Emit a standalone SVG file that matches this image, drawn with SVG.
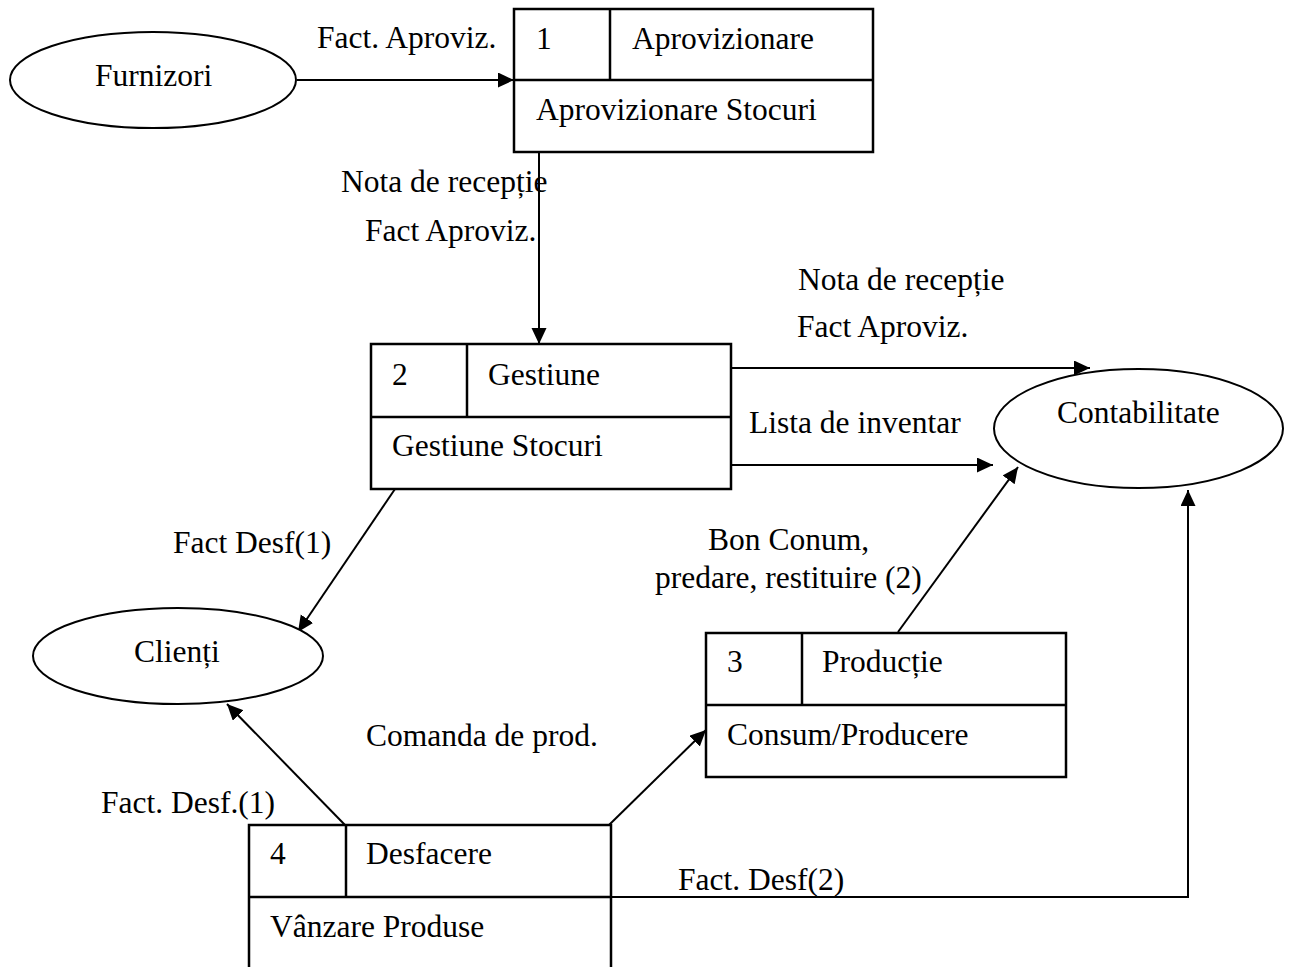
<svg xmlns="http://www.w3.org/2000/svg" width="1293" height="967" viewBox="0 0 1293 967">
  <style>
    text { font-family: "Liberation Serif", "Times New Roman", serif; font-size: 31.5px; fill: #000; }
    .box { fill: #fff; stroke: #000; stroke-width: 2.5; }
    .div { stroke: #000; stroke-width: 2.5; fill: none; }
    .ent { fill: #fff; stroke: #000; stroke-width: 2; }
    .flow { stroke: #000; stroke-width: 2; fill: none; marker-end: url(#arrow); }
  </style>
  <defs>
    <marker id="arrow" markerUnits="userSpaceOnUse" markerWidth="18" markerHeight="16" refX="16" refY="7.5" orient="auto">
      <path d="M0,0 L16,7.5 L0,15 z" fill="#000"/>
    </marker>
  </defs>

  <rect width="1293" height="967" fill="#fff"/>

  <!-- data flows -->
  <g id="connectors">
    <line class="flow" x1="297" y1="80" x2="514" y2="80"/>
    <line class="flow" x1="539" y1="152" x2="539" y2="344"/>
    <line class="flow" x1="731" y1="368" x2="1090" y2="368"/>
    <line class="flow" x1="731" y1="465" x2="993" y2="465"/>
    <line class="flow" x1="395" y1="489" x2="298" y2="632"/>
    <line class="flow" x1="898" y1="632" x2="1018" y2="467"/>
    <line class="flow" x1="345" y1="825" x2="227" y2="704"/>
    <line class="flow" x1="609" y1="825" x2="706" y2="730"/>
    <polyline class="flow" points="611,897 1188,897 1188,490"/>

    <text x="317" y="48">Fact. Aproviz.</text>
    <text x="341" y="192">Nota de recepție</text>
    <text x="365" y="241">Fact Aproviz.</text>
    <text x="798" y="290">Nota de recepție</text>
    <text x="797" y="337">Fact Aproviz.</text>
    <text x="749" y="433">Lista de inventar</text>
    <text x="173" y="553">Fact Desf(1)</text>
    <text x="708" y="550">Bon Conum,</text>
    <text x="655" y="588">predare, restituire (2)</text>
    <text x="366" y="746">Comanda de prod.</text>
    <text x="101" y="813">Fact. Desf.(1)</text>
    <text x="678" y="890">Fact. Desf(2)</text>
  </g>

  <!-- external entities -->
  <g id="furnizori">
    <ellipse class="ent" cx="153" cy="80" rx="143" ry="48"/>
    <text x="95" y="86">Furnizori</text>
  </g>
  <g id="contabilitate">
    <ellipse class="ent" cx="1138.5" cy="428.5" rx="144.5" ry="59.5"/>
    <text x="1057" y="423">Contabilitate</text>
  </g>
  <g id="clienti">
    <ellipse class="ent" cx="178" cy="656" rx="145" ry="48"/>
    <text x="134" y="662">Clienți</text>
  </g>

  <!-- processes -->
  <g id="proc1">
    <rect class="box" x="514" y="9" width="359" height="143"/>
    <line class="div" x1="514" y1="80" x2="873" y2="80"/>
    <line class="div" x1="610" y1="9" x2="610" y2="80"/>
    <text x="536" y="49">1</text>
    <text x="632" y="49">Aprovizionare</text>
    <text x="536" y="120">Aprovizionare Stocuri</text>
  </g>
  <g id="proc2">
    <rect class="box" x="371" y="344" width="360" height="145"/>
    <line class="div" x1="371" y1="417" x2="731" y2="417"/>
    <line class="div" x1="467" y1="344" x2="467" y2="417"/>
    <text x="392" y="385">2</text>
    <text x="488" y="385">Gestiune</text>
    <text x="392" y="456">Gestiune Stocuri</text>
  </g>
  <g id="proc3">
    <rect class="box" x="706" y="633" width="360" height="144"/>
    <line class="div" x1="706" y1="705" x2="1066" y2="705"/>
    <line class="div" x1="802" y1="633" x2="802" y2="705"/>
    <text x="727" y="672">3</text>
    <text x="822" y="672">Producție</text>
    <text x="727" y="745">Consum/Producere</text>
  </g>
  <g id="proc4">
    <rect class="box" x="249" y="825" width="362" height="160"/>
    <line class="div" x1="249" y1="897" x2="611" y2="897"/>
    <line class="div" x1="346" y1="825" x2="346" y2="897"/>
    <text x="270" y="864">4</text>
    <text x="366" y="864">Desfacere</text>
    <text x="270" y="937">Vânzare Produse</text>
  </g>
</svg>
